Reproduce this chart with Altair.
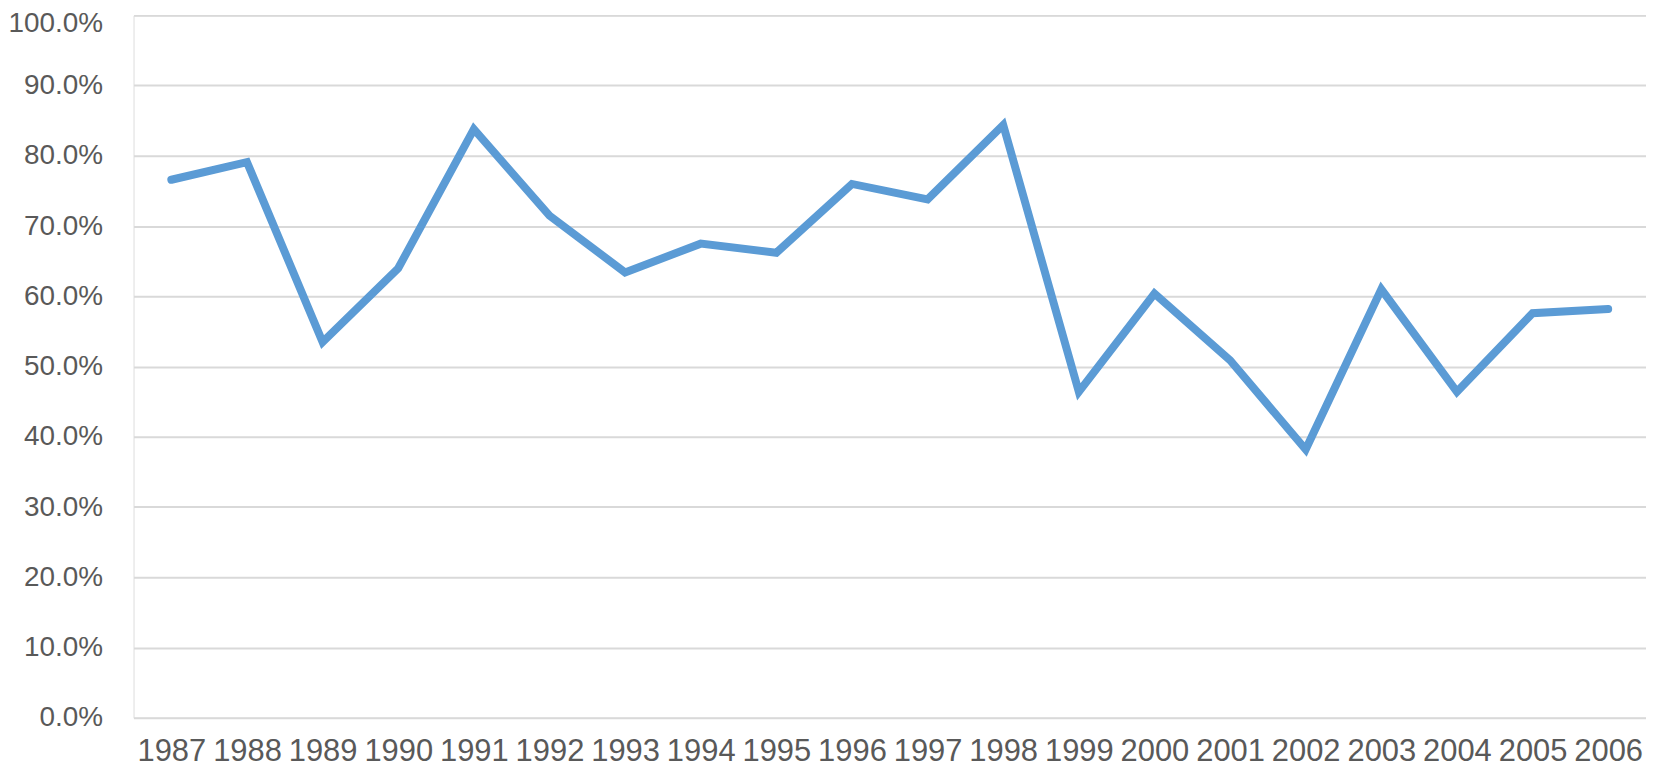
import altair as alt
import pandas as pd

years = [str(y) for y in range(1987, 2007)]
values = [0.766, 0.791, 0.535, 0.640, 0.838, 0.715, 0.634, 0.675, 0.662, 0.760,
          0.738, 0.844, 0.464, 0.604, 0.509, 0.382, 0.610, 0.464, 0.576, 0.582]

df = pd.DataFrame({"year": years, "value": values})

font = "Liberation Sans"
label_color = "#595959"

chart = alt.Chart(df).mark_line(
    color="#5B9BD5", strokeWidth=8, strokeCap="round", strokeJoin="miter"
).encode(
    x=alt.X("year:N", sort=years, title=None,
            scale=alt.Scale(type="point", padding=0.5),
            axis=alt.Axis(labelAngle=0, ticks=False, domain=False, grid=False,
                          labelFont=font, labelFontSize=31, labelColor=label_color,
                          labelPadding=19)),
    y=alt.Y("value:Q", title=None,
            scale=alt.Scale(domain=[0, 1], nice=False, zero=True),
            axis=alt.Axis(format=".1%", values=[i / 10 for i in range(11)],
                          ticks=False, domain=False, grid=True,
                          gridColor="#D9D9D9", gridWidth=2,
                          labelFont=font, labelFontSize=28, labelColor=label_color,
                          labelPadding=31,
                          labelOffset=alt.expr("datum.value >= 1 ? 8 : 0"))),
).properties(
    width=1518, height=705,
    autosize=alt.AutoSizeParams(type="none"),
    padding={"left": 126, "top": 6, "right": 0, "bottom": 55},
).configure_view(stroke=None).configure(background="white")

chart.save("out.html", embed_options={"renderer": "svg", "actions": False})
